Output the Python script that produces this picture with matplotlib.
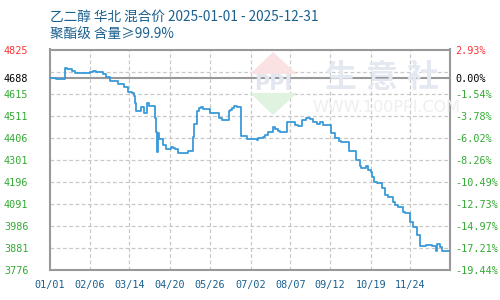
import matplotlib
matplotlib.use("Agg")
import matplotlib.pyplot as plt
from matplotlib.patches import Polygon

# ---- data ----
title_line1 = "乙二醇 华北 混合价 2025-01-01 - 2025-12-31"
title_line2 = "聚酯级 含量≥99.9%"

days = [0, 5, 14, 15, 20, 23, 36, 39, 42, 48, 51, 54, 62, 64, 67, 71, 74, 76, 77, 78,
        83, 85, 88, 90, 95, 96, 97, 98, 99, 103, 105, 110, 112, 113, 116, 125, 130, 131,
        133, 135, 137, 139, 145, 153, 156, 162, 163, 165, 167, 170, 173, 179, 188, 189,
        193, 195, 198, 202, 204, 207, 209, 215, 219, 222, 225, 229, 232, 236, 239, 242,
        245, 248, 255, 259, 262, 264, 271, 278, 281, 282, 287, 289, 291, 292, 294, 297,
        301, 304, 307, 311, 313, 316, 320, 322, 327, 329, 333, 336, 341, 347, 350, 351,
        354, 356, 359, 362]
prices = [4690, 4685, 4735, 4731, 4724, 4712, 4717, 4724, 4719, 4707, 4696, 4677, 4663,
          4659, 4648, 4624, 4619, 4604, 4569, 4534, 4551, 4521, 4569, 4556, 4499, 4434,
          4337, 4429, 4398, 4371, 4350, 4363, 4356, 4350, 4331, 4342, 4407, 4471, 4534,
          4545, 4553, 4540, 4524, 4498, 4490, 4532, 4537, 4545, 4558, 4553, 4415, 4399,
          4394, 4402, 4410, 4418, 4434, 4458, 4447, 4439, 4434, 4478, 4482, 4466, 4461,
          4490, 4498, 4493, 4482, 4471, 4482, 4466, 4429, 4402, 4391, 4383, 4344, 4299,
          4271, 4260, 4271, 4252, 4244, 4220, 4196, 4191, 4165, 4133, 4122, 4101, 4085,
          4077, 4053, 4049, 4006, 3982, 3943, 3890, 3895, 3890, 3868, 3900, 3885, 3868,
          3868, 3866]

base_price = 4688
y_top, y_bottom = 4825, 3776
left_ticks = [4825, 4688, 4615, 4511, 4406, 4301, 4196, 4091, 3986, 3881, 3776]
left_labels = ["4825", "4688", "4615", "4511", "4406", "4301", "4196", "4091", "3986", "3881", "3776"]
right_labels = ["2.93%", "0.00%", "-1.54%", "-3.78%", "-6.02%", "-8.26%", "-10.49%",
                "-12.73%", "-14.97%", "-17.21%", "-19.44%"]
x_tick_days = [0, 36, 72, 109, 145, 182, 218, 254, 291, 327]
x_tick_labels = ["01/01", "02/06", "03/14", "04/20", "05/26", "07/02", "08/07", "09/12", "10/19", "11/24"]

# ---- figure ----
W, H = 500, 300
fig = plt.figure(figsize=(5, 3), dpi=100)
ax = fig.add_axes([50 / W, 30 / H, 400 / W, 220.5 / H])
ax.set_xlim(0, 363)
ax.set_ylim(y_bottom, y_top)

# watermark (figure pixel coords)
def fx(x): return x / W
def fy(y): return 1 - y / H
pink = Polygon([(fx(273), fy(52)), (fx(297), fy(74)), (fx(250), fy(74))], closed=True,
               transform=fig.transFigure, facecolor="#fae2e2", edgecolor="none", zorder=0)
green = Polygon([(fx(250), fy(93)), (fx(297), fy(93)), (fx(273), fy(115))], closed=True,
                transform=fig.transFigure, facecolor="#e0f2e0", edgecolor="none", zorder=0)
fig.patches.extend([pink, green])
fig.text(fx(273), fy(84), "PPI", ha="center", va="center", fontsize=15, color="#e2e6f1",
         family="DejaVu Sans", fontweight="bold", zorder=0)
for cx, ch in zip([340, 382, 423], "生意社"):
    fig.text(fx(cx), fy(78), ch, ha="center", va="center", fontsize=23, color="#e4e8f0",
             family="Noto Sans CJK SC", fontweight="bold", zorder=0)
fig.text(fx(386), fy(107), "WWW.100PPI.COM", ha="center", va="center", fontsize=11.5,
         color="#eeeeee", family="DejaVu Sans", zorder=0)
ax.set_facecolor("none")

# grid
grid_vals = [y_top - (y_top - y_bottom) * k / 10 for k in range(1, 10)]
for gv in grid_vals:
    ax.axhline(gv, color="#c8c8c8", lw=0.9, ls=(0, (3, 2)), zorder=1)
for d in x_tick_days[1:]:
    ax.axvline(d, color="#c8c8c8", lw=0.9, ls=(0, (3, 2)), zorder=1)
ax.axhline(base_price, color="#999999", lw=1.5, zorder=2)

ax.plot(days, prices, drawstyle="steps-post", color="#3a9ad9", lw=1.3, zorder=3)

for s in ax.spines.values():
    s.set_color("#999999")
    s.set_linewidth(1.5)

mono = "DejaVu Sans Mono"
ax.set_yticks(left_ticks)
ax.set_yticklabels(left_labels, family=mono, fontsize=7.3)
ax.tick_params(axis="y", length=0, pad=15.5)
ax.set_xticks(x_tick_days)
ax.set_xticklabels(x_tick_labels, family=mono, fontsize=7.3, color="#1a5f8e")
ax.tick_params(axis="x", length=0, pad=7)

ax2 = ax.twinx()
ax2.set_ylim(y_bottom, y_top)
ax2.set_yticks(left_ticks)
ax2.set_yticklabels(right_labels, family=mono, fontsize=7.3)
ax2.tick_params(axis="y", length=0, pad=4)
for s in ax2.spines.values():
    s.set_visible(False)

def color_for(i):
    if i == 0:
        return "#ff3333"
    if i == 1:
        return "#000000"
    return "#33aa33"

for i, t in enumerate(ax.get_yticklabels()):
    t.set_color(color_for(i))
for i, t in enumerate(ax2.get_yticklabels()):
    t.set_color(color_for(i))

fig.text(fx(50), fy(17), title_line1, ha="left", va="center", fontsize=9.8,
         color="#1a5f8e", family=["Noto Sans CJK SC", "DejaVu Sans"])
fig.text(fx(50), fy(34), title_line2, ha="left", va="center", fontsize=9.8,
         color="#1a5f8e", family=["Noto Sans CJK SC", "DejaVu Sans"])

fig.savefig("out.png", dpi=100)
